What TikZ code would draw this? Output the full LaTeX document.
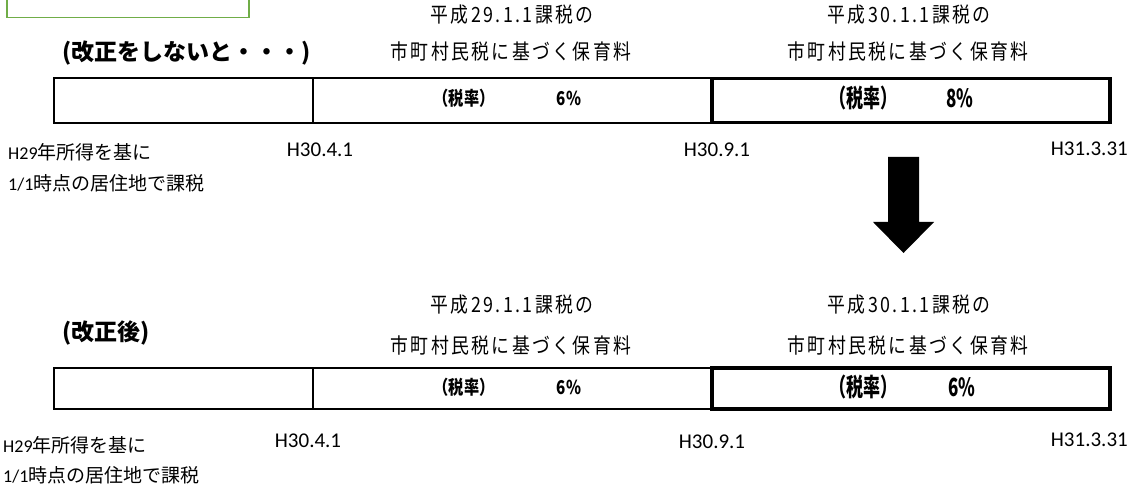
\documentclass[tikz,border=0pt]{standalone}
\usepackage{fontspec}
\setmainfont{Carlito}
\newfontfamily\jp{Noto Sans CJK JP}
\newfontfamily\jpsp[FakeStretch=0.85,LetterSpace=11.5]{Noto Sans CJK JP}
\newfontfamily\jpmid[FakeStretch=0.8]{Noto Sans CJK JP}
\newfontfamily\jpcond[FakeStretch=0.68]{Noto Sans CJK JP}
\definecolor{boxgreen}{HTML}{70AD47}
\tikzset{
  cell/.style={draw, line width=2pt, inner sep=0pt, anchor=north west, minimum height=45pt},
  thickcell/.style={draw, line width=3.5pt, inner sep=0pt, anchor=north west, minimum width=398pt, minimum height=44pt},
  heading/.style={anchor=west, inner sep=0pt, font=\jp\bfseries\fontsize{23pt}{25pt}\selectfont},
  caption/.style={inner sep=0pt, font=\jpsp\fontsize{21pt}{23pt}\selectfont},
  ratesmall/.style={inner sep=0pt, font=\jpmid\bfseries\fontsize{19pt}{21pt}\selectfont},
  ratebig/.style={inner sep=0pt, font=\jpcond\bfseries\fontsize{25pt}{27pt}\selectfont},
  datelabel/.style={inner sep=0pt, font=\fontsize{21pt}{23pt}\selectfont},
  notelabel/.style={inner sep=0pt, anchor=west, font=\fontsize{18pt}{20pt}\selectfont}
}
\newcommand{\njp}[1]{{\jp\fontsize{19pt}{21pt}\selectfont #1}}
\begin{document}
\begin{tikzpicture}[x=1pt,y=-1pt]
\useasboundingbox (0,0) rectangle (1137,486);
\clip (0,0) rectangle (1137,486);
% green box (cut at top)
\node[draw=boxgreen, line width=1.5pt, anchor=north west, minimum width=242pt, minimum height=40pt, inner sep=0pt] (gbox) at (6,-23) {};

% ---------- upper ----------
\node[heading] (t1) at (62,53) {(改正をしないと・・・)};
\node[caption] (c1a) at (512,15) {平成29.1.1課税の};
\node[caption] (c1b) at (511,52) {市町村民税に基づく保育料};
\node[caption] (c2a) at (909,15) {平成30.1.1課税の};
\node[caption] (c2b) at (908,52) {市町村民税に基づく保育料};
\node[cell, minimum width=259pt] (u1) at (53,77) {};
\node[cell, minimum width=398pt] (u2) at (312,77) {};
\node[thickcell] (u3) at (710,77) {};
\node[ratesmall] (ur1) at (464,98) {（税率）};
\node[ratesmall] (up1) at (569,98) {6\%};
\node[ratebig] (ur2) at (863,98) {（税率）};
\node[ratebig] (up2) at (960,98) {8\%};
\node[notelabel] (un1) at (8,152) {H29\njp{年所得を基に}};
\node[notelabel] (un2) at (8,183) {1/1\njp{時点の居住地で課税}};
\node[datelabel] (ud1) at (320,150) {H30.4.1};
\node[datelabel] (ud2) at (717,150) {H30.9.1};
\node[datelabel, anchor=east] (ud3) at (1128,149) {H31.3.31};

% arrow
\fill (888,157) -- (919,157) -- (919,222) -- (934,222) -- (903.5,253) -- (873,222) -- (888,222) -- cycle;

% ---------- lower ----------
\node[heading] (t2) at (62,333) {(改正後)};
\node[caption] (c3a) at (512,305) {平成29.1.1課税の};
\node[caption] (c3b) at (511,345) {市町村民税に基づく保育料};
\node[caption] (c4a) at (909,305) {平成30.1.1課税の};
\node[caption] (c4b) at (908,345) {市町村民税に基づく保育料};
\node[cell, minimum width=259pt, minimum height=41pt] (l1) at (53,367) {};
\node[cell, minimum width=398pt, minimum height=41pt] (l2) at (312,367) {};
\node[thickcell, minimum height=41pt] (l3) at (710,366) {};
\node[ratesmall] (lr1) at (464,387) {（税率）};
\node[ratesmall] (lp1) at (569,387) {6\%};
\node[ratebig] (lr2) at (863,387) {（税率）};
\node[ratebig] (lp2) at (962,387) {6\%};
\node[notelabel] (ln1) at (3,445) {H29\njp{年所得を基に}};
\node[notelabel] (ln2) at (3,475) {1/1\njp{時点の居住地で課税}};
\node[datelabel] (ld1) at (308,441) {H30.4.1};
\node[datelabel] (ld2) at (712,442) {H30.9.1};
\node[datelabel, anchor=east] (ld3) at (1128,440) {H31.3.31};
\end{tikzpicture}
\end{document}
